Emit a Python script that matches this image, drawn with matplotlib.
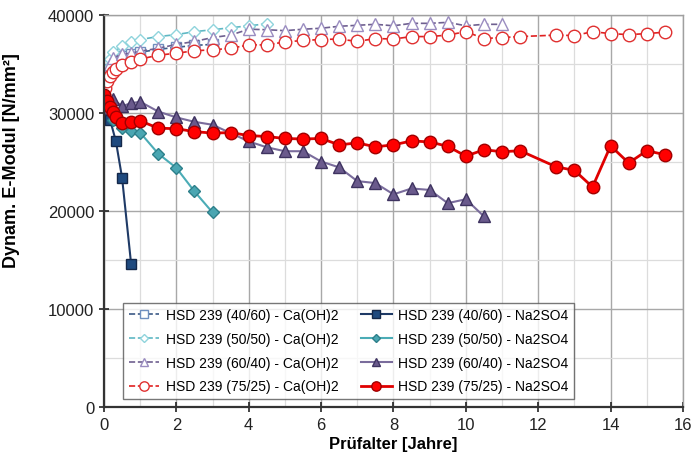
#!/usr/bin/env python3

import matplotlib
matplotlib.use("Agg")
import matplotlib.pyplot as plt
from matplotlib.ticker import MultipleLocator

plt.rcParams['font.family'] = ['Liberation Sans', 'DejaVu Sans']

# Ca(OH)2 storage
x_ca_4060 = [0, 0.08, 0.17, 0.25, 0.5, 0.75, 1, 1.5, 2, 2.5, 3]
y_ca_4060 = [31500, 33500, 34500, 35200, 35800, 36000, 36200, 36500, 36700, 36900, 37000]

x_ca_5050 = [0, 0.08, 0.17, 0.25, 0.5, 0.75, 1, 1.5, 2, 2.5, 3, 3.5, 4, 4.5]
y_ca_5050 = [32000, 34500, 35500, 36200, 36800, 37200, 37500, 37800, 38000, 38300,
             38500, 38700, 38900, 39100]

x_ca_6040 = [0, 0.08, 0.17, 0.25, 0.5, 0.75, 1, 1.5, 2, 2.5, 3, 3.5, 4, 4.5, 5, 5.5,
             6, 6.5, 7, 7.5, 8, 8.5, 9, 9.5, 10, 10.5, 11]
y_ca_6040 = [31500, 34000, 35000, 35600, 36000, 36100, 36300, 36600, 37000, 37300,
             37700, 37950, 38550, 38500, 38400, 38550, 38650, 38850, 38950, 39050,
             38900, 39150, 39150, 39250, 38900, 39050, 39050]

x_ca_7525 = [0, 0.04, 0.08, 0.17, 0.25, 0.33, 0.5, 0.75, 1, 1.5, 2, 2.5, 3, 3.5, 4,
             4.5, 5, 5.5, 6, 6.5, 7, 7.5, 8, 8.5, 9, 9.5, 10, 10.5, 11, 11.5, 12.5,
             13, 13.5, 14, 14.5, 15, 15.5]
y_ca_7525 = [31800, 32600, 33300, 33800, 34200, 34500, 34850, 35250, 35500, 35900,
             36100, 36350, 36450, 36600, 36950, 36950, 37250, 37400, 37500, 37550,
             37300, 37600, 37550, 37800, 37800, 37950, 38300, 37600, 37700, 37800,
             37950, 37900, 38300, 38100, 38000, 38100, 38250]

# Na2SO4 storage
x_na_4060 = [0, 0.08, 0.17, 0.33, 0.5, 0.75]
y_na_4060 = [30500, 30000, 29300, 27100, 23400, 14600]

x_na_5050 = [0, 0.08, 0.25, 0.5, 0.75, 1, 1.5, 2, 2.5, 3]
y_na_5050 = [31000, 30500, 29300, 28500, 28200, 28000, 25850, 24400, 22000, 19850]

x_na_6040 = [0, 0.1, 0.25, 0.5, 0.75, 1, 1.5, 2, 2.5, 3, 4, 4.5, 5, 5.5, 6, 6.5,
             7, 7.5, 8, 8.5, 9, 9.5, 10, 10.5]
y_na_6040 = [30500, 31000, 31400, 30700, 31000, 31150, 30150, 29550, 29100, 28800,
             27100, 26500, 26100, 26100, 25050, 24450, 23050, 22850, 21700, 22300,
             22150, 20800, 21200, 19450]

x_na_7525 = [0, 0.08, 0.17, 0.25, 0.33, 0.5, 0.75, 1, 1.5, 2, 2.5, 3, 3.5, 4, 4.5,
             5, 5.5, 6, 6.5, 7, 7.5, 8, 8.5, 9, 9.5, 10, 10.5, 11, 11.5, 12.5, 13,
             13.5, 14, 14.5, 15, 15.5]
y_na_7525 = [31800, 31200, 30600, 30100, 29600, 29000, 29100, 29200, 28450, 28400,
             28100, 27950, 28000, 27700, 27600, 27400, 27350, 27400, 26750, 26950,
             26550, 26750, 27150, 27050, 26600, 25600, 26250, 26050, 26150, 24500,
             24150, 22450, 26650, 24900, 26150, 25750]


def main():
    fig = plt.figure(figsize=(6.95, 4.64), dpi=100)
    ax = fig.add_axes([0.1496, 0.1207, 0.8331, 0.8448])

    # dashed lines with open markers
    ax.plot(x_ca_4060, y_ca_4060, '--', color='#3c5a86', lw=1.2, marker='s', ms=7,
            mfc='white', mec='#6f8fbf', label='HSD 239 (40/60) - Ca(OH)2')
    ax.plot(x_ca_5050, y_ca_5050, '--', color='#5fb8c4', lw=1.2, marker='D', ms=6,
            mfc='white', mec='#8fd4dc', label='HSD 239 (50/50) - Ca(OH)2')
    ax.plot(x_ca_6040, y_ca_6040, '--', color='#6f6090', lw=1.2, marker='^', ms=8,
            mfc='white', mec='#9a8cc0', label='HSD 239 (60/40) - Ca(OH)2')
    ax.plot(x_ca_7525, y_ca_7525, '--', color='#e02020', lw=1.2, marker='o', ms=9,
            mfc='white', mec='#e03030', label='HSD 239 (75/25) - Ca(OH)2')

    # solid lines with filled markers
    ax.plot(x_na_4060, y_na_4060, '-', color='#1f3a66', lw=1.5, marker='s', ms=7,
            mfc='#1f4a7f', mec='#14284a', label='HSD 239 (40/60) - Na2SO4')
    ax.plot(x_na_5050, y_na_5050, '-', color='#4bacb6', lw=1.5, marker='D', ms=6,
            mfc='#4aa6b2', mec='#2d7f8a', label='HSD 239 (50/50) - Na2SO4')
    ax.plot(x_na_6040, y_na_6040, '-', color='#7a6c9c', lw=1.5, marker='^', ms=8,
            mfc='#6a5a8c', mec='#3e3360', label='HSD 239 (60/40) - Na2SO4')
    ax.plot(x_na_7525, y_na_7525, '-', color='#e00000', lw=2, marker='o', ms=9,
            mfc='#ff0000', mec='#a00000', label='HSD 239 (75/25) - Na2SO4')

    ax.set_xlim(0, 16)
    ax.set_ylim(0, 40000)
    ax.xaxis.set_major_locator(MultipleLocator(2))
    ax.xaxis.set_minor_locator(MultipleLocator(1))
    ax.yaxis.set_major_locator(MultipleLocator(10000))
    ax.yaxis.set_minor_locator(MultipleLocator(5000))
    ax.grid(which='major', color='#a8a8a8', lw=1.0)
    ax.grid(which='minor', color='#dcdcdc', lw=0.9)
    ax.set_axisbelow(True)

    ax.tick_params(which='major', direction='inout', length=7, width=1.2,
                   labelsize=12, colors='#222222')
    ax.tick_params(which='minor', length=0)
    for side in ('left', 'bottom'):
        ax.spines[side].set_color('#333333')
        ax.spines[side].set_linewidth(1.6)
    for side in ('top', 'right'):
        ax.spines[side].set_color('#a0a0a0')
        ax.spines[side].set_linewidth(1.0)

    ax.set_xlabel('Prüfalter [Jahre]', fontsize=12, fontweight='bold', labelpad=3)
    ax.set_ylabel('Dynam. E-Modul [N/mm²]', fontsize=13, fontweight='bold')
    ax.yaxis.set_label_coords(-0.145, 0.63)

    leg = ax.legend(ncol=2, loc='lower left', bbox_to_anchor=(0.0328, 0.0204),
                    borderaxespad=0, fontsize=10, frameon=True, fancybox=False,
                    edgecolor='#555555', handlelength=2.2, handletextpad=0.5,
                    columnspacing=1.6, labelspacing=0.7, borderpad=0.4,
                    markerscale=0.75)
    leg.get_frame().set_linewidth(1.0)

    fig.savefig('out.png', dpi=100)


if __name__ == '__main__':
    main()
